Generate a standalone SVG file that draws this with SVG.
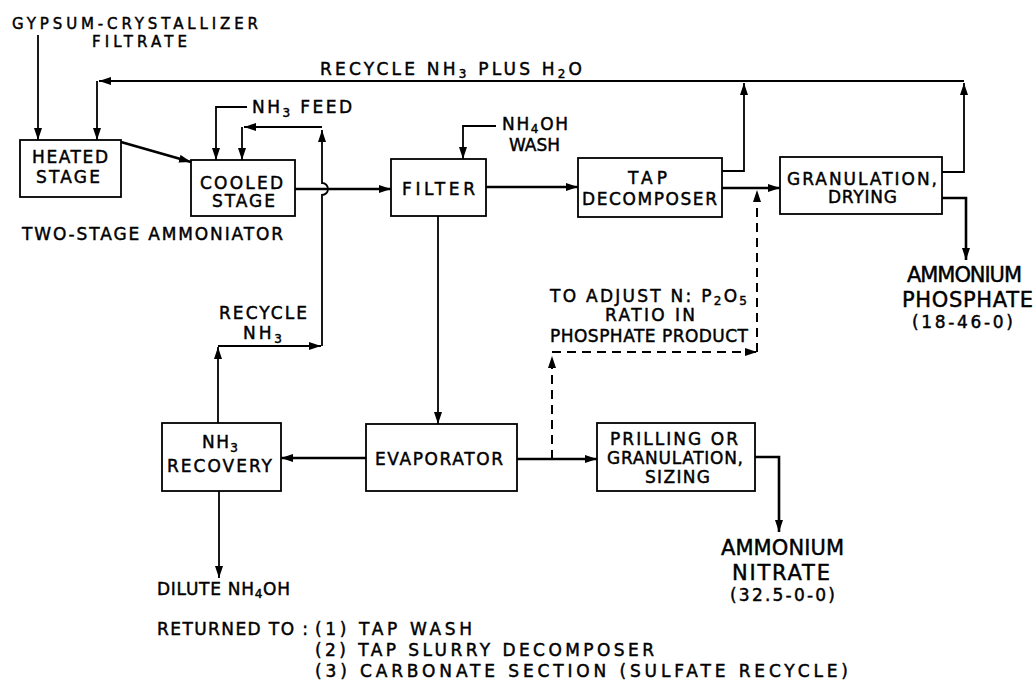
<svg xmlns="http://www.w3.org/2000/svg" width="1036" height="698" viewBox="0 0 1036 698">
<style>
text{font-family:"DejaVu Sans","Liberation Sans",sans-serif;font-size:17px;fill:#000;stroke:#000;stroke-width:0.45}
.big{font-size:21px}
.sm{font-size:15px}
.sub{font-size:12px}
.box{fill:#fff;stroke:#000;stroke-width:1.8}
.h{fill:none;stroke:#000;stroke-width:2.6}
.t{fill:none;stroke:#000;stroke-width:1.8}
.d{fill:none;stroke:#000;stroke-width:2;stroke-dasharray:9,6}
</style>
<defs>
<marker id="a" viewBox="0 0 12 8" refX="12" refY="4" markerWidth="12" markerHeight="8" markerUnits="userSpaceOnUse" orient="auto">
<path d="M0,0L12,4L0,8z" fill="#000"/>
</marker>
</defs>
<g id="connectors">
<path class="t" d="M38,35V140" marker-end="url(#a)"/>
<path class="t" d="M964,81H99" marker-end="url(#a)"/>
<path class="t" d="M97,81V140" marker-end="url(#a)"/>
<path class="t" d="M942,172H964V83" marker-end="url(#a)"/>
<path class="t" d="M722,171H744V83" marker-end="url(#a)"/>
<path class="h" d="M121,142L191,162" marker-end="url(#a)"/>
<path class="t" d="M247,107H216V160" marker-end="url(#a)"/>
<path class="t" d="M218,423V347" marker-end="url(#a)"/>
<path class="t" d="M218,346H321" marker-end="url(#a)"/>
<path class="t" d="M322,346V195A6,6 0 0 0 322,183V130" marker-end="url(#a)"/>
<path class="t" d="M322,127H244" marker-end="url(#a)"/>
<path class="t" d="M242,127V160" marker-end="url(#a)"/>
<path class="h" d="M295,189H391" marker-end="url(#a)"/>
<path class="t" d="M496,126H463V159" marker-end="url(#a)"/>
<path class="h" d="M486,187H578" marker-end="url(#a)"/>
<path class="h" d="M722,188H780" marker-end="url(#a)"/>
<path class="h" d="M942,198H966V260" marker-end="url(#a)"/>
<path class="t" d="M438,216V424" marker-end="url(#a)"/>
<path class="h" d="M366,458H281" marker-end="url(#a)"/>
<path class="t" d="M219,491V578" marker-end="url(#a)"/>
<path class="h" d="M517,459H597" marker-end="url(#a)"/>
<path class="d" d="M552,459V356" marker-end="url(#a)"/>
<path class="d" d="M552,352H757" marker-end="url(#a)"/>
<path class="d" d="M757,352V190" marker-end="url(#a)"/>
<path class="h" d="M755,457H779V532" marker-end="url(#a)"/>
</g>
<g id="labels">
<text class="sm" x="12" y="29" textLength="246" lengthAdjust="spacing">GYPSUM-CRYSTALLIZER</text>
<text class="sm" x="92" y="47" textLength="95" lengthAdjust="spacing">FILTRATE</text>
<text x="320" y="75" textLength="262" lengthAdjust="spacing">RECYCLE NH<tspan class="sub" dy="3">3</tspan><tspan dy="-3"> PLUS H</tspan><tspan class="sub" dy="3">2</tspan><tspan dy="-3">O</tspan></text>
<text x="252" y="113" textLength="100" lengthAdjust="spacing">NH<tspan class="sub" dy="4">3</tspan><tspan dy="-4"> FEED</tspan></text>
<text x="22" y="240" textLength="261" lengthAdjust="spacing">TWO-STAGE AMMONIATOR</text>
<text x="502" y="130" textLength="66" lengthAdjust="spacing">NH<tspan class="sub" dy="3">4</tspan><tspan dy="-3">OH</tspan></text>
<text x="509" y="151" textLength="51" lengthAdjust="spacing">WASH</text>
<text class="big" x="907" y="282" textLength="115" lengthAdjust="spacing">AMMONIUM</text>
<text class="big" x="902" y="307" textLength="131" lengthAdjust="spacing">PHOSPHATE</text>
<text x="912" y="328" textLength="101" lengthAdjust="spacing">(18-46-0)</text>
<text x="219" y="319" textLength="88" lengthAdjust="spacing">RECYCLE</text>
<text x="243" y="339" textLength="39" lengthAdjust="spacing">NH<tspan class="sub" dy="4">3</tspan></text>
<text x="550" y="302" textLength="197" lengthAdjust="spacing">TO ADJUST N: P<tspan class="sub" dy="3">2</tspan><tspan dy="-3">O</tspan><tspan class="sub" dy="3">5</tspan></text>
<text x="605" y="321" textLength="90" lengthAdjust="spacing">RATIO IN</text>
<text x="550" y="342" textLength="198" lengthAdjust="spacing">PHOSPHATE PRODUCT</text>
<text class="big" x="721" y="555" textLength="123" lengthAdjust="spacing">AMMONIUM</text>
<text class="big" x="732" y="580" textLength="98" lengthAdjust="spacing">NITRATE</text>
<text x="730" y="601" textLength="105" lengthAdjust="spacing">(32.5-0-0)</text>
<text x="157" y="595" textLength="133" lengthAdjust="spacing">DILUTE NH<tspan class="sub" dy="3">4</tspan><tspan dy="-3">OH</tspan></text>
<text x="157" y="635" textLength="151" lengthAdjust="spacing">RETURNED TO :</text>
<text x="315" y="635" textLength="157" lengthAdjust="spacing">(1) TAP WASH</text>
<text x="315" y="656" textLength="339" lengthAdjust="spacing">(2) TAP SLURRY DECOMPOSER</text>
<text x="315" y="677" textLength="533" lengthAdjust="spacing">(3) CARBONATE SECTION (SULFATE RECYCLE)</text>
</g>
<g id="heated">
<rect class="box" x="20" y="140" width="101" height="57"/>
<text x="32" y="163" textLength="76" lengthAdjust="spacing">HEATED</text>
<text x="36" y="183" textLength="64" lengthAdjust="spacing">STAGE</text>
</g>
<g id="cooled">
<rect class="box" x="191" y="160" width="104" height="56"/>
<text x="200" y="189" textLength="83" lengthAdjust="spacing">COOLED</text>
<text x="212" y="207" textLength="63" lengthAdjust="spacing">STAGE</text>
</g>
<g id="filter">
<rect class="box" x="391" y="159" width="95" height="57"/>
<text x="402" y="195" textLength="73" lengthAdjust="spacing">FILTER</text>
</g>
<g id="tap">
<rect class="box" x="578" y="158" width="144" height="59"/>
<text x="628" y="184" textLength="39" lengthAdjust="spacing">TAP</text>
<text x="582" y="205" textLength="135" lengthAdjust="spacing">DECOMPOSER</text>
</g>
<g id="granulation">
<rect class="box" x="780" y="157" width="162" height="57"/>
<text x="787" y="185" textLength="150" lengthAdjust="spacing">GRANULATION,</text>
<text x="828" y="203" textLength="69" lengthAdjust="spacing">DRYING</text>
</g>
<g id="recovery">
<rect class="box" x="162" y="423" width="119" height="68"/>
<text x="202" y="448" textLength="36" lengthAdjust="spacing">NH<tspan class="sub" dy="4">3</tspan></text>
<text x="167" y="472" textLength="105" lengthAdjust="spacing">RECOVERY</text>
</g>
<g id="evaporator">
<rect class="box" x="366" y="424" width="151" height="67"/>
<text x="375" y="465" textLength="128" lengthAdjust="spacing">EVAPORATOR</text>
</g>
<g id="prilling">
<rect class="box" x="597" y="423" width="158" height="68"/>
<text x="610" y="445" textLength="128" lengthAdjust="spacing">PRILLING OR</text>
<text x="607" y="464" textLength="136" lengthAdjust="spacing">GRANULATION,</text>
<text x="645" y="483" textLength="65" lengthAdjust="spacing">SIZING</text>
</g>
</svg>
